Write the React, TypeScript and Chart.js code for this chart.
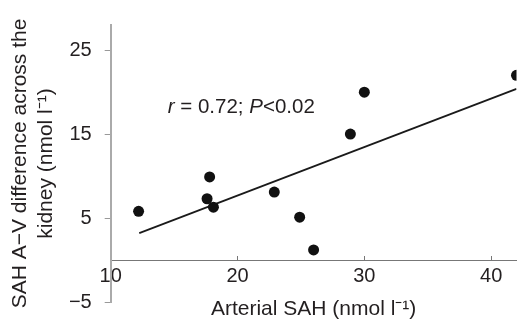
import React, { useEffect, useRef } from "react";
import { Chart, registerables } from "chart.js";

Chart.register(...registerables);

// Data
const arterialSAH = [12.2, 17.6, 17.8, 18.1, 22.9, 24.9, 26.0, 28.9, 30.0, 42.0];
const avDifference = [5.8, 7.3, 9.9, 6.3, 8.1, 5.1, 1.2, 15.0, 20.0, 22.0];
const fitX = [12.25, 42.0];
const fitY = [3.2, 20.4];
const xTicks = [10, 20, 30, 40];
const yTicks = [-5, 5, 15, 25];
const xTitle = "Arterial SAH (nmol l\u207B\u00B9)";
const yTitle = ["SAH A\u2212V difference across the", "kidney (nmol l\u207B\u00B9)"];
// [text, italic]
const annotationParts: [string, boolean][] = [
  ["r", true],
  [" = 0.72; ", false],
  ["P", true],
  ["<0.02", false],
];
const annotationAt = { x: 14.5, y: 18.2 };

const FAMILY = '"Liberation Sans", Arial, Helvetica, sans-serif';
const TEXT = "#231f20";

const fmt = (v: number) => (v < 0 ? "\u2212" + Math.abs(v) : String(v));

const annotationPlugin = {
  id: "annotationText",
  afterDatasetsDraw(chart: any) {
    const { ctx, scales } = chart;
    let px = scales.x.getPixelForValue(annotationAt.x);
    const py = scales.y.getPixelForValue(annotationAt.y);
    ctx.save();
    ctx.textBaseline = "middle";
    ctx.textAlign = "left";
    ctx.fillStyle = TEXT;
    for (const [t, italic] of annotationParts) {
      ctx.font = `${italic ? "italic " : ""}20.5px ${FAMILY}`;
      ctx.fillText(t, px, py);
      px += ctx.measureText(t).width;
    }
    ctx.restore();
  },
};

export default function App() {
  const ref = useRef<HTMLCanvasElement | null>(null);
  useEffect(() => {
    if (!ref.current) return;
    const chart = new Chart(ref.current, {
      type: "scatter",
      data: {
        datasets: [
          {
            data: arterialSAH.map((x, i) => ({ x, y: avDifference[i] })),
            backgroundColor: "#111",
            borderWidth: 0,
            pointRadius: 5.5,
            showLine: false,
          },
          {
            data: fitX.map((x, i) => ({ x, y: fitY[i] })),
            showLine: true,
            borderColor: "#1a1a1a",
            borderWidth: 1.8,
            pointRadius: 0,
          },
        ],
      },
      options: {
        animation: false,
        responsive: false,
        devicePixelRatio: 1,
        layout: { padding: { left: 0, right: 5, top: 19, bottom: 17 } },
        plugins: { legend: { display: false }, tooltip: { enabled: false } },
        scales: {
          x: {
            type: "linear",
            min: 10,
            max: 42,
            position: { y: 0 } as any,
            afterBuildTicks: (s: any) => {
              s.ticks = xTicks.map((v) => ({ value: v }));
            },
            grid: {
              display: true,
              drawOnChartArea: false,
              drawTicks: true,
              tickLength: -5,
              color: "#777",
              lineWidth: 1,
            },
            border: { display: true, color: "#777", width: 1 },
            ticks: {
              color: TEXT,
              font: { size: 20, family: FAMILY },
              padding: 9,
              maxRotation: 0,
              autoSkip: false,
              callback: (v: any) => fmt(Number(v)),
            },
            title: {
              display: true,
              text: xTitle,
              color: TEXT,
              font: { size: 21, family: FAMILY },
              padding: { top: 0, bottom: 0 },
            },
          },
          y: {
            type: "linear",
            min: -5,
            max: 28,
            position: "left",
            afterBuildTicks: (s: any) => {
              s.ticks = yTicks.map((v) => ({ value: v }));
            },
            afterFit: (s: any) => {
              s.width = 110.7;
            },
            grid: {
              display: true,
              drawOnChartArea: false,
              drawTicks: true,
              tickLength: 6,
              color: "#999",
              lineWidth: 1,
            },
            border: { display: true, color: "#aaa", width: 2 },
            ticks: {
              color: TEXT,
              font: { size: 20, family: FAMILY },
              padding: 13,
              autoSkip: false,
              callback: (v: any) => fmt(Number(v)),
            },
            title: {
              display: true,
              text: yTitle,
              color: TEXT,
              font: { size: 21, family: FAMILY },
              padding: { top: 8, bottom: 0 },
            },
          },
        },
      },
      plugins: [annotationPlugin],
    });
    return () => chart.destroy();
  }, []);
  return (
    <div style={{ position: "fixed", left: 0, top: 0, width: 522, height: 327, background: "#fff" }}>
      <canvas ref={ref} width={522} height={327} style={{ display: "block" }} />
    </div>
  );
}
